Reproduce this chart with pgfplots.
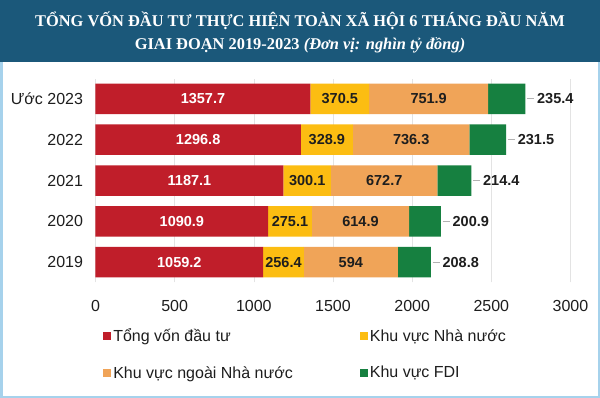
\documentclass[border=0pt]{standalone}
\usepackage{pgfplots}
\usepackage{pgfplotstable}
\pgfplotsset{compat=1.18}
\usepackage{fontspec}
\setmainfont{Liberation Sans}
\newfontfamily\titlefont{Liberation Serif}
\definecolor{banner}{RGB}{27,88,122}
\definecolor{frameblue}{RGB}{166,210,236}
\definecolor{cred}{RGB}{192,30,42}
\definecolor{cyel}{RGB}{252,189,18}
\definecolor{corg}{RGB}{240,164,88}
\definecolor{cgrn}{RGB}{22,128,64}
\definecolor{txt}{RGB}{30,30,30}
% y: 0=2019 ... 4=Uoc 2023; a: Tong von, b: Nha nuoc, c: ngoai Nha nuoc, d: FDI
\pgfplotstableread{
y a b c d
0 1059.2 256.4 594 208.8
1 1090.9 275.1 614.9 200.9
2 1187.1 300.1 672.7 214.4
3 1296.8 328.9 736.3 231.5
4 1357.7 370.5 751.9 235.4
}\data
\begin{document}
\begin{tikzpicture}[x=1pt,y=1pt]
\fill[frameblue] (0,0) rectangle (600,-398);
\fill[white] (2.5,-2) rectangle (597.5,-395.5);
\fill[banner] (0,0) rectangle (600,-62);
\node[anchor=base, text=white, inner sep=0pt, font=\titlefont\bfseries\fontsize{16.4}{19}\selectfont] at (300,-26.7) {TỔNG VỐN ĐẦU TƯ THỰC HIỆN TOÀN XÃ HỘI 6 THÁNG ĐẦU NĂM};
\node[anchor=base, text=white, inner sep=0pt, font=\titlefont\bfseries\fontsize{16.4}{19}\selectfont] at (300,-50) {GIAI ĐOẠN 2019-2023 \textit{(Đơn vị: nghìn tỷ đồng)}};
\pgfplotsset{common/.style={
  at={(95.5pt,-282.4pt)}, anchor=south west,
  scale only axis, width=475pt, height=203.8pt,
  xmin=0, xmax=3000, ymin=-0.5, ymax=4.5}}
\begin{axis}[common,
  xbar stacked, bar width=30.5pt,
  xtick={0,500,...,3000}, ytick={0,1,2,3,4},
  yticklabels={2019,2020,2021,2022,Ước 2023},
  xmajorgrids, grid style={gray!22, line width=0.6pt},
  axis line style={draw=none}, major tick length=0pt,
  tick label style={font=\fontsize{16}{18}\selectfont, text=txt},
  /pgf/number format/assume math mode=true,
  /pgf/number format/1000 sep={},
  xticklabel style={yshift=-14.5pt},
  yticklabel style={xshift=-9pt},
  legend columns=2,
  legend cell align=left,
  legend image code/.code={\fill[#1] (0pt,-4pt) rectangle (8pt,4pt);},
  legend style={at={(0.016,-0.217)}, anchor=north west, draw=none, fill=none, inner sep=0pt,
    font=\fontsize{16}{18}\selectfont, text=txt, row sep=19pt,
    /tikz/every even column/.append style={column sep=65pt}},
]
\addplot[fill=cred, draw=none] table[x=a, y=y] {\data};
\addlegendentry{Tổng vốn đầu tư}
\addplot[fill=cyel, draw=none] table[x=b, y=y] {\data};
\addlegendentry{Khu vực Nhà nước}
\addplot[fill=corg, draw=none] table[x=c, y=y] {\data};
\addlegendentry{Khu vực ngoài Nhà nước}
\addplot[fill=cgrn, draw=none] table[x=d, y=y] {\data};
\addlegendentry{Khu vực FDI}
\end{axis}
\begin{axis}[common, hide axis,
  point meta=explicit symbolic,
  nodes near coords,
  every node near coord/.append style={font=\bfseries\fontsize{14.5}{16}\selectfont, text=txt, anchor=center},
]
\addplot[draw=none, mark=none, every node near coord/.append style={text=white}]
  table[x expr={\thisrow{a}/2}, y=y, meta=a] {\data};
\addplot[draw=none, mark=none]
  table[x expr={\thisrow{a}+\thisrow{b}/2}, y=y, meta=b] {\data};
\addplot[draw=none, mark=none]
  table[x expr={\thisrow{a}+\thisrow{b}+\thisrow{c}/2}, y=y, meta=c] {\data};
\addplot[draw=none, mark=none,
  nodes near coords={\textcolor{gray!60}{\rule[0.33em]{7pt}{0.7pt}}\hspace{3pt}\pgfplotspointmeta},
  every node near coord/.append style={anchor=west, inner sep=1.5pt}]
  table[x expr={\thisrow{a}+\thisrow{b}+\thisrow{c}+\thisrow{d}}, y=y, meta=d] {\data};
\end{axis}
\end{tikzpicture}
\end{document}
